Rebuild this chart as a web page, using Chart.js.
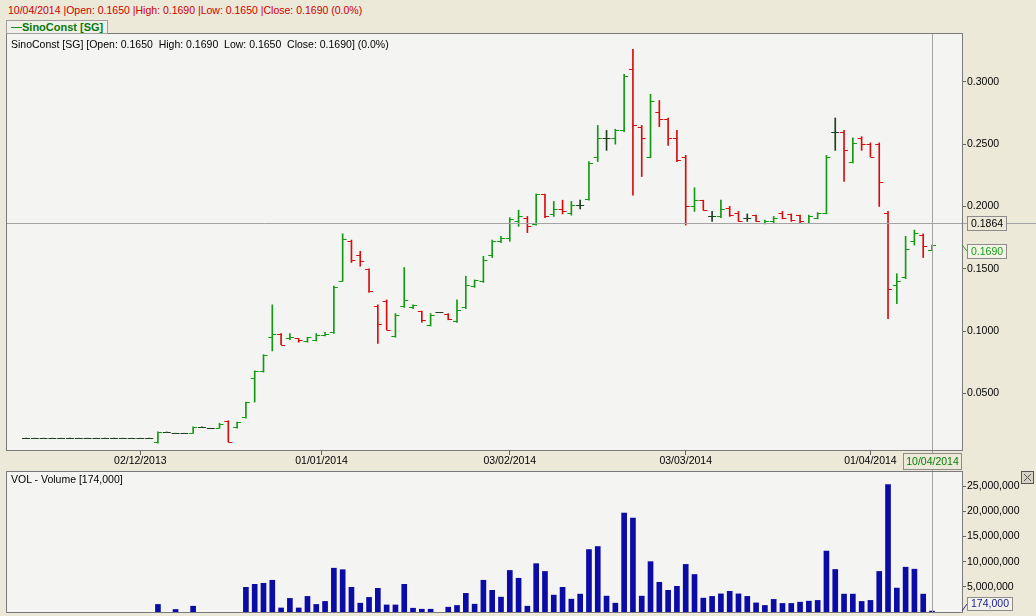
<!DOCTYPE html>
<html>
<head>
<meta charset="utf-8">
<script src="https://cdn.jsdelivr.net/npm/chart.js@4.4.1/dist/chart.umd.min.js"></script>
<style>
body { margin: 0; background: #ece9d8; font-family: "Liberation Sans", Arial, sans-serif; }
#wrap { position: relative; width: 1036px; height: 616px; overflow: hidden; }
#head { position: absolute; left: 8px; top: 4px; font-size: 10.5px; line-height: 13px; color: #cc0000; white-space: pre; }
#legend { position: absolute; left: 6px; top: 20px; width: 100px; height: 12px; border: 1px solid #a0a0a0; background: #f1f0e8; z-index: 2; }
#legend .ln { position: absolute; left: 4px; top: 6px; width: 11px; height: 1px; background: #1c8a1c; }
#legend .tx { position: absolute; left: 15px; top: -1px; font-size: 11px; line-height: 14px; font-weight: bold; color: #0a7a0a; }
#info { position: absolute; left: 11px; top: 38px; font-size: 10.5px; line-height: 13px; color: #000; white-space: pre; z-index: 2; }
#volInfo { position: absolute; left: 11px; top: 473px; font-size: 10.5px; line-height: 13px; color: #000; white-space: pre; z-index: 2; }
#priceChart { position: absolute; left: 0; top: 33px; }
#volChart { position: absolute; left: 0; top: 471px; }
</style>
</head>
<body>
<div id="wrap">
  <div id="head">10/04/2014 |Open: 0.1650 |High: 0.1690 |Low: 0.1650 |Close: 0.1690 (0.0%)</div>
  <canvas id="priceChart" width="1036" height="438"></canvas>
  <canvas id="volChart" width="1036" height="145"></canvas>
  <div id="legend"><span class="ln"></span><span class="tx">SinoConst [SG]</span></div>
  <div id="info">SinoConst [SG] [Open: 0.1650  High: 0.1690  Low: 0.1650  Close: 0.1690] (0.0%)</div>
  <div id="volInfo">VOL - Volume [174,000]</div>
</div>
<script>
// daily bars, 13/11/2013 .. 10/04/2014 (one entry per trading day)
var opens = [
  0.014,0.014,0.014,0.014,0.014,0.014,0.014,0.014,0.014,0.014,
  0.014,0.014,0.014,0.014,0.014,0.011,0.019,0.018,0.018,0.018,
  0.023,0.022,0.022,0.028,0.023,0.031,0.062,0.068,0.095,0.098,
  0.094,0.094,0.092,0.093,0.097,0.099,0.140,0.172,0.161,0.150,
  0.120,0.124,0.096,0.120,0.119,0.116,0.105,0.115,0.114,0.108,
  0.119,0.136,0.140,0.161,0.172,0.175,0.188,0.191,0.186,0.210,
  0.194,0.198,0.195,0.201,0.206,0.240,0.255,0.255,0.261,0.310,
  0.264,0.240,0.276,0.270,0.255,0.240,0.200,0.205,0.192,0.192,
  0.199,0.195,0.191,0.193,0.187,0.188,0.195,0.194,0.193,0.187,
  0.191,0.195,0.260,0.260,0.236,0.255,0.250,0.250,0.195,0.137,
  0.143,0.172,0.177,0.165
];
var highs = [
  0.014,0.014,0.014,0.014,0.014,0.014,0.014,0.014,0.014,0.014,
  0.014,0.014,0.014,0.014,0.014,0.019,0.019,0.018,0.018,0.023,
  0.023,0.022,0.026,0.028,0.027,0.043,0.068,0.081,0.121,0.098,
  0.098,0.094,0.095,0.098,0.099,0.136,0.178,0.173,0.164,0.150,
  0.121,0.125,0.114,0.151,0.121,0.116,0.114,0.115,0.114,0.125,
  0.144,0.141,0.160,0.173,0.176,0.191,0.197,0.192,0.210,0.210,
  0.204,0.205,0.204,0.205,0.236,0.265,0.261,0.262,0.306,0.326,
  0.265,0.290,0.285,0.271,0.261,0.241,0.215,0.205,0.196,0.205,
  0.200,0.196,0.194,0.193,0.189,0.192,0.196,0.194,0.193,0.193,
  0.195,0.241,0.271,0.261,0.255,0.256,0.251,0.251,0.196,0.146,
  0.176,0.181,0.178,0.169
];
var lows = [
  0.014,0.014,0.014,0.014,0.014,0.014,0.014,0.014,0.014,0.014,
  0.014,0.014,0.014,0.014,0.014,0.010,0.019,0.018,0.018,0.018,
  0.023,0.022,0.022,0.011,0.022,0.030,0.043,0.067,0.084,0.089,
  0.093,0.091,0.091,0.092,0.096,0.098,0.140,0.155,0.152,0.131,
  0.090,0.101,0.095,0.119,0.118,0.107,0.104,0.115,0.109,0.107,
  0.118,0.135,0.139,0.159,0.171,0.172,0.184,0.179,0.185,0.191,
  0.192,0.194,0.193,0.198,0.205,0.236,0.245,0.250,0.260,0.209,
  0.224,0.239,0.264,0.249,0.236,0.185,0.196,0.197,0.188,0.191,
  0.192,0.188,0.188,0.188,0.186,0.187,0.190,0.188,0.187,0.187,
  0.190,0.194,0.245,0.220,0.235,0.245,0.240,0.200,0.110,0.122,
  0.142,0.169,0.159,0.165
];
var closes = [
  0.014,0.014,0.014,0.014,0.014,0.014,0.014,0.014,0.014,0.014,
  0.014,0.014,0.014,0.014,0.014,0.019,0.019,0.018,0.018,0.023,
  0.023,0.022,0.025,0.011,0.027,0.043,0.068,0.081,0.098,0.089,
  0.095,0.093,0.095,0.097,0.098,0.135,0.174,0.157,0.156,0.132,
  0.106,0.101,0.113,0.125,0.121,0.109,0.113,0.115,0.110,0.117,
  0.137,0.141,0.157,0.172,0.175,0.190,0.192,0.184,0.210,0.192,
  0.198,0.196,0.201,0.201,0.235,0.255,0.255,0.261,0.305,0.265,
  0.255,0.285,0.270,0.255,0.237,0.200,0.205,0.197,0.192,0.198,
  0.193,0.188,0.191,0.188,0.188,0.191,0.191,0.189,0.188,0.192,
  0.195,0.240,0.260,0.245,0.251,0.250,0.240,0.220,0.134,0.140,
  0.166,0.179,0.168,0.169
];
var volumes = [
  0,0,0,0,0,0,0,0,0,0,
  0,0,0,0,0,1500000,0,500000,0,1150000,
  0,0,0,0,0,4900000,5500000,5700000,6300000,800000,
  2700000,800000,3100000,1500000,2100000,8700000,8400000,4900000,1750000,2900000,
  4700000,1400000,1400000,5500000,750000,550000,550000,0,950000,1300000,
  3700000,1550000,6300000,4300000,2950000,8250000,6700000,1150000,9600000,8050000,
  3350000,4900000,2550000,3550000,12400000,13000000,3150000,1750000,19650000,18650000,
  3150000,10000000,5900000,4300000,5100000,9450000,7450000,2750000,3100000,3600000,
  4100000,3600000,3100000,1800000,1300000,2500000,1700000,1700000,1950000,2150000,
  2300000,12100000,8450000,3550000,3550000,2100000,2300000,8050000,25300000,4750000,
  8900000,8500000,3550000,174000
];

var dateTickPos = [13, 33.6, 55, 75, 96];
var dateTickText = ['02/12/2013', '01/01/2014', '03/02/2014', '03/03/2014', '01/04/2014'];
var lastDate = '10/04/2014';
var priceTicks = [0.05, 0.10, 0.15, 0.20, 0.25, 0.30];
var volTicks = [5000000, 10000000, 15000000, 20000000, 25000000];
var crossValue = 0.1864;

var last = opens.length - 1;
var xMin = -2.16, xMax = 106.41;
var font = { family: '"Liberation Sans", Arial, sans-serif', size: 10.5 };

var barColors = [];
for (var i = 0; i < opens.length; i++) {
    if (closes[i] > opens[i]) barColors.push('#139a13');
    else if (closes[i] < opens[i]) barColors.push('#d40f0f');
    else barColors.push('#1f3f1f');
}

function noPad(s) { s.paddingTop = 0; s.paddingBottom = 0; s.paddingLeft = 0; s.paddingRight = 0; }

function panelPlugin(bg) {
    return {
        id: 'panel',
        beforeDraw: function(chart) {
            var a = chart.chartArea, c = chart.ctx;
            c.save();
            c.fillStyle = bg;
            c.fillRect(a.left, a.top, a.right - a.left, a.bottom - a.top);
            c.restore();
        }
    };
}

function box(c, x, y, w, h, text, color, fill) {
    c.fillStyle = fill;
    c.fillRect(x, y, w, h);
    c.strokeStyle = '#8c8c8c';
    c.lineWidth = 1;
    c.strokeRect(x + 0.5, y + 0.5, w - 1, h - 1);
    c.fillStyle = color;
    c.font = '10.5px "Liberation Sans", Arial, sans-serif';
    c.textAlign = 'center';
    c.textBaseline = 'middle';
    c.fillText(text, x + w / 2, y + h / 2 + 0.5);
}

// open tick on the left, close tick on the right
var ohlcTicks = {
    id: 'ohlcTicks',
    afterDatasetsDraw: function(chart) {
        var x = chart.scales.x, y = chart.scales.y, c = chart.ctx;
        c.save();
        c.lineWidth = 1;
        for (var i = 0; i < opens.length; i++) {
            var px = x.getPixelForValue(i);
            var yo = Math.round(y.getPixelForValue(opens[i])) + 0.5;
            var yc = Math.round(y.getPixelForValue(closes[i])) + 0.5;
            c.strokeStyle = barColors[i];
            c.beginPath();
            c.moveTo(px - 4, yo); c.lineTo(px, yo);
            c.moveTo(px, yc); c.lineTo(px + 4, yc);
            c.stroke();
        }
        c.restore();
    }
};

var priceOverlay = {
    id: 'priceOverlay',
    afterDraw: function(chart) {
        var a = chart.chartArea, c = chart.ctx;
        var x = chart.scales.x, y = chart.scales.y;
        var cx = Math.round(x.getPixelForValue(last)) + 0.5;
        var cy = Math.round(y.getPixelForValue(crossValue)) + 0.5;
        c.save();
        c.strokeStyle = '#a4a4a4';
        c.lineWidth = 1;
        c.beginPath();
        c.moveTo(a.left, cy); c.lineTo(chart.width, cy);
        c.moveTo(cx, a.top); c.lineTo(cx, chart.height);
        c.stroke();

        c.strokeStyle = '#7a7a7a';
        c.strokeRect(a.left - 0.5, a.top + 0.5, a.right - a.left + 1, a.bottom - a.top - 1);

        box(c, a.right + 5, Math.round(cy) - 8, 40, 15, crossValue.toFixed(4), '#000', '#ece9d8');

        var ly = y.getPixelForValue(closes[last]);
        c.strokeStyle = '#3a8a3a';
        c.beginPath();
        c.moveTo(a.right, ly); c.lineTo(a.right + 5, ly + 6);
        c.stroke();
        box(c, a.right + 5, Math.round(ly) - 1, 40, 15, closes[last].toFixed(4), '#16a016', '#f3f4e6');

        box(c, x.getPixelForValue(last) - 29, a.bottom + 2, 59, 17, lastDate, '#0a7a0a', '#ece9d8');
        c.restore();
    }
};

var volOverlay = {
    id: 'volOverlay',
    afterDraw: function(chart) {
        var a = chart.chartArea, c = chart.ctx, x = chart.scales.x;
        var cx = Math.round(x.getPixelForValue(last)) + 0.5;
        c.save();
        c.strokeStyle = '#a4a4a4';
        c.lineWidth = 1;
        c.beginPath();
        c.moveTo(cx, 0); c.lineTo(cx, a.bottom);
        c.stroke();
        c.strokeStyle = '#7a7a7a';
        c.strokeRect(a.left - 0.5, a.top + 0.5, a.right - a.left + 1, a.bottom - a.top);

        c.strokeStyle = '#2a2a8a';
        c.beginPath();
        c.moveTo(a.right, a.bottom - 1); c.lineTo(a.right + 5, a.bottom - 8);
        c.stroke();
        box(c, a.right + 5, a.bottom - 15, 46, 14, volumes[last].toLocaleString('en-US'), '#1a1a90', '#f3f3ec');

        // close button
        c.fillStyle = '#d6d3c6';
        c.fillRect(1021, 0, 13, 13);
        c.strokeStyle = '#555';
        c.strokeRect(1021.5, 0.5, 12, 12);
        c.beginPath();
        c.moveTo(1024, 3); c.lineTo(1031, 10);
        c.moveTo(1031, 3); c.lineTo(1024, 10);
        c.stroke();
        c.restore();
    }
};

var hlData = [], volData = [];
for (var i = 0; i < opens.length; i++) {
    hlData.push({ x: i, y: [lows[i], highs[i]] });
    if (volumes[i] > 0) volData.push({ x: i, y: volumes[i] });
}

new Chart(document.getElementById('priceChart'), {
    type: 'bar',
    data: {
        datasets: [{
            data: hlData,
            backgroundColor: barColors,
            barThickness: 1,
            borderWidth: 0
        }]
    },
    options: {
        responsive: false,
        animation: false,
        devicePixelRatio: 1,
        layout: { padding: { left: 7, top: 0, right: 0, bottom: 0 } },
        plugins: { legend: { display: false }, tooltip: { enabled: false } },
        scales: {
            x: {
                type: 'linear',
                min: xMin,
                max: xMax,
                offset: false,
                border: { display: false },
                grid: { offset: false, drawOnChartArea: false, drawTicks: true, tickLength: 4, color: '#666' },
                afterBuildTicks: function(s) { s.ticks = dateTickPos.map(function(v) { return { value: v }; }); },
                afterFit: function(s) { s.height = 20; noPad(s); },
                ticks: {
                    autoSkip: false,
                    maxRotation: 0,
                    padding: 0,
                    color: '#000',
                    font: font,
                    callback: function(v, i) { return dateTickText[i]; }
                }
            },
            y: {
                position: 'right',
                min: 0.0037,
                max: 0.3392,
                border: { display: false },
                grid: { drawOnChartArea: false, drawTicks: true, tickLength: 4, color: '#666' },
                afterBuildTicks: function(s) { s.ticks = priceTicks.map(function(v) { return { value: v }; }); },
                afterFit: function(s) { s.width = 74; noPad(s); },
                ticks: {
                    padding: 1,
                    color: '#000',
                    font: font,
                    callback: function(v) { return v.toFixed(4); }
                }
            }
        }
    },
    plugins: [panelPlugin('#f4f4f2'), ohlcTicks, priceOverlay]
});

new Chart(document.getElementById('volChart'), {
    type: 'bar',
    data: {
        datasets: [{
            data: volData,
            backgroundColor: '#0b0ba6',
            barThickness: 5,
            borderWidth: 0
        }]
    },
    options: {
        responsive: false,
        animation: false,
        devicePixelRatio: 1,
        layout: { padding: { left: 7, top: 0, right: 0, bottom: 4 } },
        plugins: { legend: { display: false }, tooltip: { enabled: false } },
        scales: {
            x: { type: 'linear', min: xMin, max: xMax, offset: false, display: false },
            y: {
                position: 'right',
                min: 0,
                max: 28000000,
                border: { display: false },
                grid: { drawOnChartArea: false, drawTicks: true, tickLength: 4, color: '#666' },
                afterBuildTicks: function(s) { s.ticks = volTicks.map(function(v) { return { value: v }; }); },
                afterFit: function(s) { s.width = 74; noPad(s); },
                ticks: {
                    padding: 1,
                    color: '#000',
                    font: font,
                    callback: function(v) { return v.toLocaleString('en-US'); }
                }
            }
        }
    },
    plugins: [panelPlugin('#f4f4f2'), volOverlay]
});
</script>
</body>
</html>
